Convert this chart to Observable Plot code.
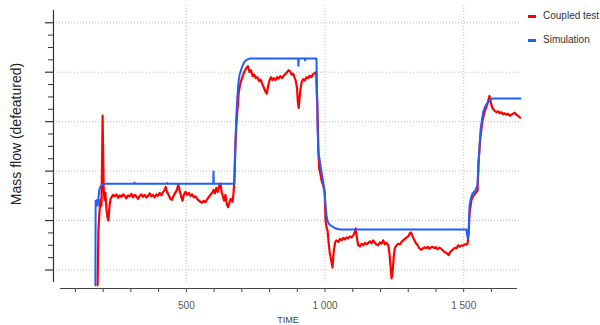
<!DOCTYPE html>
<html>
<head>
<meta charset="utf-8">
<script src="https://cdn.jsdelivr.net/npm/d3@7"></script>
<script src="https://cdn.jsdelivr.net/npm/@observablehq/plot@0.6"></script>
<style>
  body { margin: 0; background: #fff; }
  #wrap { position: relative; width: 600px; height: 325px; font-family: "Liberation Sans", Arial, sans-serif; }
  #wrap svg { position: absolute; left: 0; top: 0; }
  #ylabel { position: absolute; left: 15.5px; top: 134px; transform: translate(-50%, -50%) rotate(-90deg);
            font-size: 14px; white-space: nowrap; color: #222; }
  #xlabel { position: absolute; left: 288px; top: 315px; transform: translateX(-50%); font-size: 9px; color: #444; }
  .legend { position: absolute; left: 528px; font-size: 10px; color: #333; white-space: nowrap; }
  .legend i { display: inline-block; width: 8px; height: 2.5px; vertical-align: middle; margin-right: 7px; }
</style>
</head>
<body>
<div id="wrap">
  <div id="ylabel">Mass flow (defeatured)</div>
  <div id="xlabel">TIME</div>
</div>
<script>
// Series names and colours
const seriesNames = ["Coupled test", "Simulation"];
const seriesColors = ["#ff0000", "#1f5eff"];

// Simulation: time and mass flow
const simTime = [172, 173, 175, 177, 180, 183, 186, 190, 195, 201, 312, 313, 315, 431, 432, 434,
  597, 598, 599, 673, 675, 677, 680, 684, 688, 692, 697, 703, 710, 717, 725, 733,
  903, 904, 905, 927, 928, 930, 969, 971, 973, 976, 980, 984, 991, 998, 1002, 1005, 1009,
  1016, 1025, 1035, 1045, 1056, 1510, 1512, 1515, 1518, 1521, 1526, 1532, 1542, 1550,
  1553, 1557, 1561, 1566, 1571, 1578, 1586, 1595, 1604, 1705];
const simFlow = [0.69, 2.40, 2.32, 2.41, 2.30, 2.46, 2.62, 2.68, 2.72, 2.745, 2.745, 2.77, 2.745, 2.745, 2.76, 2.745,
  2.745, 2.99, 2.745, 2.745, 3.20, 3.55, 4.10, 4.50, 4.80, 4.95, 5.04, 5.14, 5.21, 5.25, 5.27, 5.277,
  5.277, 5.13, 5.277, 5.277, 5.24, 5.277, 5.277, 4.70, 3.90, 3.40, 3.25, 3.10, 2.86, 2.60, 2.30, 2.12, 1.99,
  1.92, 1.88, 1.85, 1.83, 1.82, 1.82, 1.72, 1.64, 1.80, 2.30, 2.45, 2.55, 2.61, 2.71,
  3.05, 3.48, 3.85, 4.05, 4.21, 4.31, 4.38, 4.44, 4.468, 4.468];

// Coupled test: time and mass flow
const testTime = [180, 183, 186, 190, 194, 197, 198, 200, 202, 205, 208, 212, 216, 219, 223, 227,
  230, 236, 242, 248, 254, 260, 266, 272, 278, 284, 290, 296, 302, 308, 314, 320, 326, 332, 338, 344,
  350, 356, 362, 368, 374, 380, 386, 392, 398, 404, 410, 416, 422, 426, 430, 436, 442, 448, 454, 460,
  466, 471, 476, 481, 486, 491, 497, 503, 509, 515, 521, 527, 533, 539, 545, 551, 557, 563, 569, 575,
  581, 587, 592, 598, 603, 608, 613, 618, 623, 627, 632, 636, 641, 646, 651, 655, 660, 664, 667, 670,
  673, 675, 677, 680, 683, 686, 689, 695, 702, 710, 716, 722, 728, 733, 739, 745, 750, 756, 762, 768,
  774, 780, 786, 790, 795, 800, 805, 810, 815, 821, 827, 833, 839, 845, 851, 857, 863, 869, 875, 880,
  885, 890, 895, 899, 902, 905, 908, 911, 916, 921, 927, 933, 939, 945, 951, 957, 962, 968, 970, 972,
  974, 976, 979, 983, 988, 995, 999, 1002, 1006, 1009, 1013, 1017, 1022, 1027, 1031, 1036, 1041, 1048,
  1054, 1060, 1066, 1072, 1078, 1084, 1090, 1096, 1102, 1107, 1111, 1115, 1120, 1126, 1132, 1138, 1144,
  1150, 1156, 1162, 1168, 1174, 1180, 1186, 1192, 1198, 1204, 1210, 1216, 1222, 1228, 1232, 1236, 1240,
  1244, 1248, 1252, 1258, 1264, 1270, 1276, 1282, 1288, 1294, 1300, 1306, 1310, 1316, 1322, 1328, 1334,
  1340, 1346, 1352, 1358, 1364, 1370, 1376, 1382, 1388, 1394, 1400, 1406, 1412, 1418, 1424, 1430, 1436,
  1442, 1446, 1450, 1456, 1462, 1468, 1474, 1480, 1486, 1492, 1498, 1504, 1510, 1514, 1518, 1521, 1528,
  1535, 1542, 1550, 1553, 1560, 1568, 1575, 1586, 1593, 1598, 1604, 1612, 1618, 1624, 1630, 1636, 1642,
  1648, 1654, 1660, 1666, 1672, 1678, 1684, 1690, 1696, 1704];
const testFlow = [0.69, 1.80, 2.10, 2.42, 2.30, 3.60, 4.12, 3.40, 2.62, 2.42, 2.56, 2.22, 2.05, 2.00, 2.30, 2.44,
  2.47, 2.52, 2.49, 2.53, 2.46, 2.51, 2.48, 2.53, 2.50, 2.45, 2.51, 2.49, 2.54, 2.47, 2.52, 2.49, 2.44, 2.50, 2.53, 2.48,
  2.52, 2.47, 2.50, 2.55, 2.49, 2.52, 2.47, 2.53, 2.50, 2.56, 2.51, 2.58, 2.62, 2.68, 2.58, 2.52, 2.44, 2.42, 2.50, 2.56,
  2.62, 2.73, 2.60, 2.50, 2.40, 2.52, 2.58, 2.52, 2.56, 2.50, 2.53, 2.47, 2.49, 2.44, 2.40, 2.38, 2.36, 2.40, 2.37, 2.43,
  2.48, 2.52, 2.55, 2.62, 2.55, 2.66, 2.58, 2.70, 2.75, 2.58, 2.48, 2.40, 2.52, 2.33, 2.27, 2.36, 2.44, 2.40, 2.38, 2.55,
  2.80, 3.15, 3.55, 3.90, 4.15, 4.35, 4.60, 4.78, 4.90, 5.02, 5.08, 5.12, 5.00, 5.04, 4.92, 4.95, 4.88, 4.90, 4.82, 4.85,
  4.76, 4.68, 4.60, 4.57, 4.72, 4.84, 4.90, 4.84, 4.88, 4.84, 4.90, 4.87, 4.92, 4.88, 4.93, 4.96, 5.00, 5.04, 5.01, 4.95,
  4.97, 4.89, 4.82, 4.68, 4.40, 4.28, 4.45, 4.64, 4.80, 4.86, 4.83, 4.90, 4.88, 4.93, 4.90, 4.96, 4.98, 5.00, 4.60, 4.40,
  3.95, 3.40, 3.05, 2.95, 2.80, 2.68, 2.55, 2.00, 1.85, 1.80, 1.55, 1.35, 1.20, 1.05, 1.35, 1.55, 1.60, 1.57,
  1.63, 1.60, 1.65, 1.62, 1.66, 1.64, 1.68, 1.66, 1.70, 1.76, 1.84, 1.64, 1.50, 1.48, 1.53, 1.50, 1.55,
  1.52, 1.55, 1.58, 1.54, 1.60, 1.55, 1.51, 1.50, 1.56, 1.53, 1.60, 1.52, 1.55, 1.50, 1.35, 1.10, 0.83,
  0.98, 1.28, 1.45, 1.50, 1.53, 1.52, 1.57, 1.60, 1.63, 1.66, 1.68, 1.74, 1.76, 1.68, 1.60, 1.54, 1.50,
  1.44, 1.41, 1.43, 1.46, 1.44, 1.47, 1.43, 1.46, 1.47, 1.44, 1.46, 1.42, 1.45, 1.43, 1.40, 1.37, 1.35,
  1.32, 1.30, 1.35, 1.39, 1.42, 1.45, 1.44, 1.50, 1.47, 1.50, 1.49, 1.52, 1.51, 1.54, 1.75, 2.14, 2.42,
  2.50, 2.55, 2.60, 3.15, 3.68, 4.02, 4.19, 4.37, 4.52, 4.38, 4.27, 4.22, 4.19, 4.21, 4.17, 4.19, 4.15,
  4.17, 4.14, 4.16, 4.12, 4.14, 4.16, 4.18, 4.14, 4.12, 4.08];

// Axis ticks
const xTicks = [100, 200, 300, 400, 500, 600, 700, 800, 900, 1000, 1100, 1200, 1300, 1400, 1500, 1600];
const xLabeled = [500, 1000, 1500];
const yMajor = [1, 2, 3, 4, 5, 6];
const yMinor = [1.25, 1.5, 1.75, 2.25, 2.5, 2.75, 3.25, 3.5, 3.75, 4.25, 4.5, 4.75, 5.25, 5.5, 5.75];

// Scale extents and axis-line extents (data units)
const xDomain = [21, 1694];
const yDomain = [0.626, 6.349];
const xAxisSpan = [46, 1694];
const yAxisSpan = [0.747, 6.248];
const gridRight = 1705;

const fmt = d3.formatLocale({decimal: ",", thousands: "\u00a0", grouping: [3], currency: ["", ""]}).format(",d");

const sim = simTime.map((t, i) => ({t, v: simFlow[i]}));
const test = testTime.map((t, i) => ({t, v: testFlow[i]}));

const gridStyle = {stroke: "#bdbdbd", strokeWidth: 1, strokeDasharray: "1,2"};

const chart = Plot.plot({
  width: 600,
  height: 325,
  marginLeft: 53,
  marginRight: 83,
  marginTop: 5,
  marginBottom: 37,
  style: {fontFamily: "'Liberation Sans', Arial, sans-serif", background: "transparent", overflow: "visible"},
  x: {domain: xDomain},
  y: {domain: yDomain},
  marks: [
    Plot.ruleY(yMajor, {y: d => d, x1: xDomain[0], x2: gridRight, ...gridStyle}),
    Plot.ruleX(xLabeled, {x: d => d, y1: yAxisSpan[0], y2: yDomain[1], ...gridStyle}),
    Plot.ruleX([xDomain[0]], {x: d => d, y1: yAxisSpan[0], y2: yAxisSpan[1], stroke: "#333", strokeWidth: 1.2}),
    Plot.ruleY([yDomain[0]], {y: d => d, x1: xAxisSpan[0], x2: xAxisSpan[1], stroke: "#444", strokeWidth: 1.2}),
    Plot.axisY(yMajor, {tickSize: 8, tickFormat: () => "", label: null, stroke: "#333", strokeWidth: 1.2}),
    Plot.axisY(yMinor, {tickSize: 5, tickFormat: () => "", label: null, stroke: "#333"}),
    Plot.axisX(xTicks, {tickSize: 4, tickPadding: 9, label: null, stroke: "#444", fill: "#555", fontSize: 10,
      tickFormat: d => (xLabeled.includes(d) ? fmt(d) : "")}),
    Plot.line(test, {x: "t", y: "v", stroke: seriesColors[0], strokeWidth: 2.2}),
    Plot.line(sim, {x: "t", y: "v", stroke: seriesColors[1], strokeWidth: 2})
  ]
});

const wrap = document.getElementById("wrap");
wrap.prepend(chart);

// Legend in the right margin
seriesNames.forEach((name, i) => {
  const row = document.createElement("div");
  row.className = "legend";
  row.style.top = (10 + i * 24) + "px";
  row.innerHTML = `<i style="background:${seriesColors[i]}"></i>${name}`;
  wrap.appendChild(row);
});
</script>
</body>
</html>
